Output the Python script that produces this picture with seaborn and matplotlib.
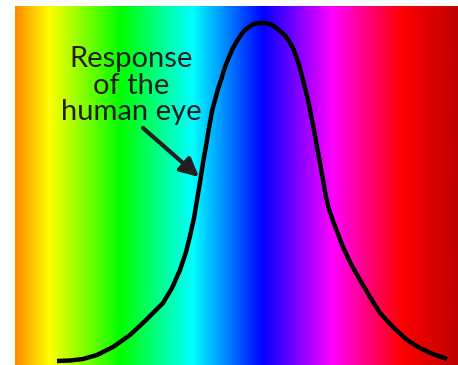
import matplotlib
matplotlib.use("Agg")
import matplotlib.pyplot as plt
import numpy as np
import seaborn as sns
from matplotlib.colors import LinearSegmentedColormap

# spectrum background: colour stops along the x axis (0 = left edge, 1 = right edge)
stop_pos = [0.0, 0.075, 0.237, 0.40, 0.56, 0.718, 0.874, 1.0]
stop_colors = ["#FF8C00", "#FFFF00", "#00FF00", "#00FFFF", "#0000FF", "#FF00FF", "#FF0000", "#C00000"]

# eye response curve (pixel columns, rows counted from the top)
curve_px = [57, 70, 83, 97, 113, 130, 146, 163, 172, 180, 186, 190, 194, 197, 200, 203, 206, 209,
            212, 215, 218, 221, 225, 229, 233, 237, 241, 245, 249, 253, 258, 262, 266, 271, 275,
            280, 285, 289, 293, 296, 299, 302, 305, 308, 311, 314, 317, 320, 323, 326, 329, 333,
            338, 343, 350, 360, 370, 380, 393, 407, 420, 433, 447]
curve_py = [361, 360.5, 359, 355, 347, 335, 320, 303, 288, 270, 252, 236, 218, 200, 182, 163, 146, 128,
            111, 100, 89, 80, 67, 57, 48, 41, 35, 30, 27, 24.5, 23.2, 23, 23.2, 24.5, 27,
            31, 35.5, 41, 48, 56, 65, 76, 88, 100, 115, 130, 147, 163, 180, 197, 209, 221,
            234, 247, 262, 280, 297, 313, 327, 340, 348, 354, 359]

label_lines = ["Response", "of the", "human eye"]
label_rows = [67, 94, 120]

H = 365
curve_y = [H - v for v in curve_py]

fig = plt.figure(figsize=(4.58, 3.65), dpi=100)
ax = fig.add_axes([15 / 458, 0, 443 / 458, 359 / 365])

cmap = LinearSegmentedColormap.from_list("spectrum", list(zip(stop_pos, stop_colors)))
ax.imshow(np.linspace(0, 1, 600)[None, :], cmap=cmap, aspect="auto",
          extent=(15, 458, 0, 359), interpolation="bilinear")

sns.lineplot(x=curve_px, y=curve_y, sort=False, color="black", lw=3.2, ax=ax,
             solid_joinstyle="round", solid_capstyle="butt")

for txt, row in zip(label_lines, label_rows):
    ax.text(131, H - row, txt, ha="center", va="baseline", fontsize=21, family="Lato",
            color="#231F20")

ax.annotate("", xy=(199, H - 177), xytext=(143, H - 128),
            arrowprops=dict(arrowstyle="-|>,head_length=1.1,head_width=0.55",
                            color="#231F20", lw=3, shrinkA=0, shrinkB=0))

ax.set_xlim(15, 458)
ax.set_ylim(0, 359)
ax.axis("off")

fig.savefig("out.png", dpi=100)
